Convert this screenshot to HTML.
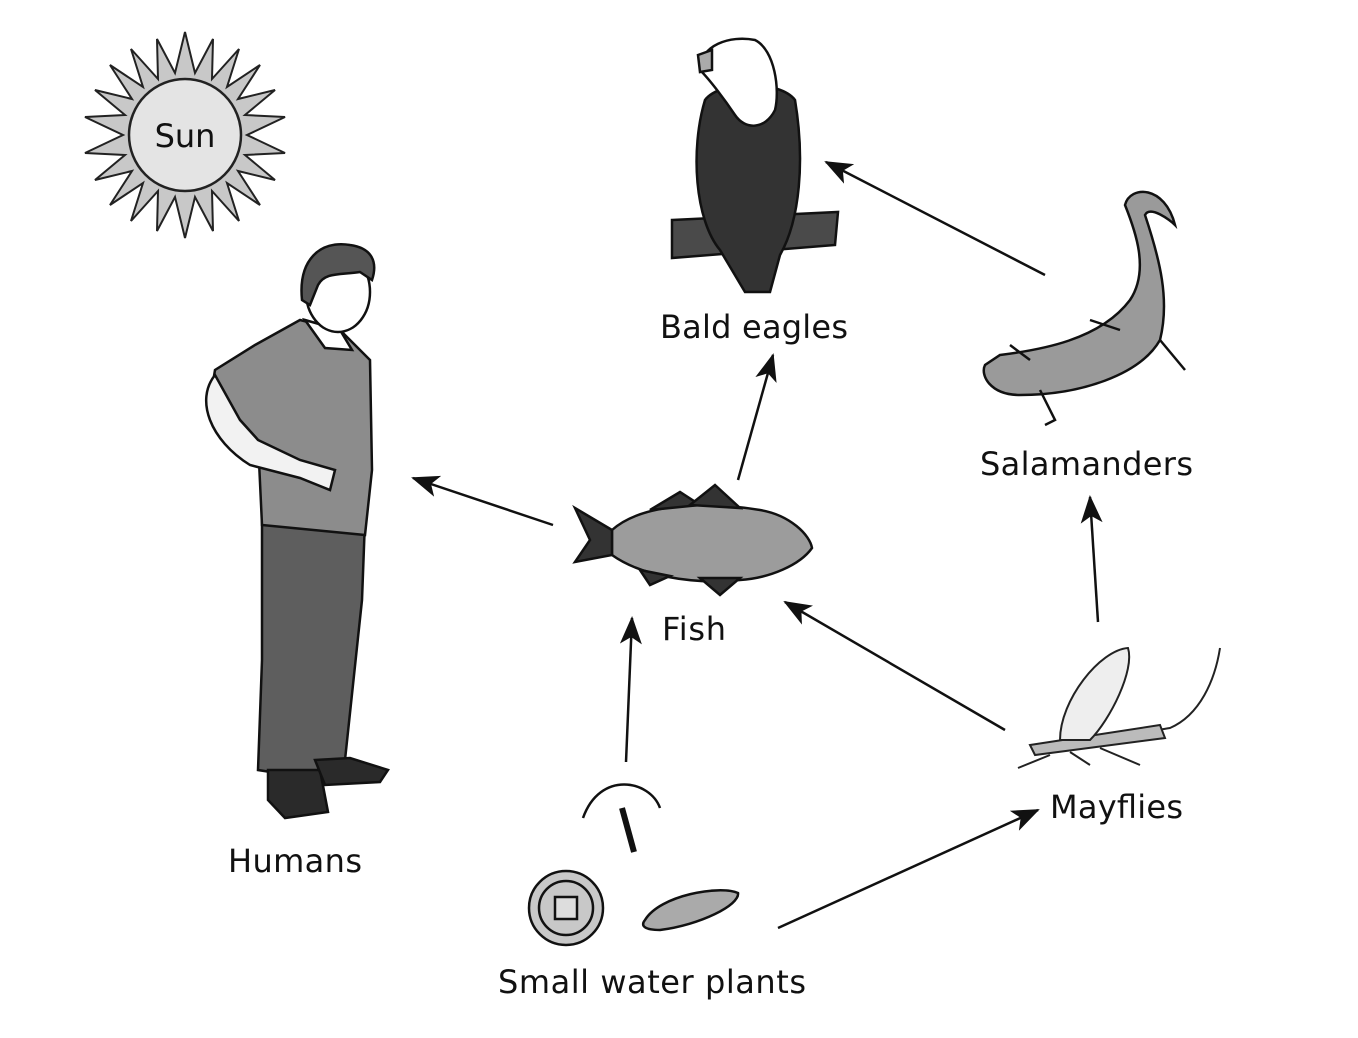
<!DOCTYPE html>
<html><head><meta charset="utf-8"><style>
html,body{margin:0;padding:0;background:#fff;}
svg{display:block}
text{font-family:"DejaVu Sans","Liberation Sans",sans-serif;fill:#111;}
</style></head><body>
<svg width="1358" height="1038" viewBox="0 0 1358 1038" xmlns="http://www.w3.org/2000/svg">
<defs>
<marker id="ah" markerWidth="28" markerHeight="22" refX="26" refY="11" orient="auto" markerUnits="userSpaceOnUse" viewBox="0 0 28 22">
<path d="M0,0 L28,11 L0,22 L7,11 Z" fill="#111"/>
</marker>
</defs>
<!-- Sun -->
<g transform="translate(185,135)">
<polygon fill="#c8c8c8" stroke="#222" stroke-width="2" points="
0,-103 10,-62 28,-96 27,-56 54,-86 42,-48 75,-70 53,-36 90,-45 60,-20 100,-18 62,0 100,18 60,20 90,45 53,36 75,70 42,48 54,86 27,56 28,96 10,62 0,103 -10,62 -28,96 -27,56 -54,86 -42,48 -75,70 -53,36 -90,45 -60,20 -100,18 -62,0 -100,-18 -60,-20 -90,-45 -53,-36 -75,-70 -42,-48 -54,-86 -27,-56 -28,-96 -10,-62"/>
<circle r="56" fill="#e4e4e4" stroke="#222" stroke-width="2.5"/>
<text x="0" y="12" font-size="32" text-anchor="middle">Sun</text>
</g>
<!-- Human -->
<g stroke="#111" stroke-width="2.5">
<path d="M262,520 L365,520 L362,600 L345,760 L318,770 L290,775 L258,770 L262,660 Z" fill="#5e5e5e"/>
<path d="M268,770 L320,770 L328,812 L285,818 L268,800 Z" fill="#2a2a2a"/>
<path d="M315,760 L350,758 L388,770 L380,782 L325,785 Z" fill="#2a2a2a"/>
<path d="M255,345 L300,320 L340,330 L370,360 L372,470 L365,535 L262,525 L258,440 L240,420 L210,400 L215,370 Z" fill="#8c8c8c"/>
<path d="M215,375 C195,400 210,440 250,465 L300,478 L330,490 L335,470 L300,460 L258,440 L240,420 Z" fill="#f2f2f2"/>
<path d="M305,320 L340,330 L352,350 L325,348 Z" fill="#fff"/>
<ellipse cx="338" cy="292" rx="32" ry="40" fill="#fff"/>
<path d="M302,300 C298,260 320,240 350,245 C372,248 378,262 372,280 L360,272 C340,275 325,272 318,285 L310,305 Z" fill="#555"/>
</g>
<!-- Eagle -->
<g stroke="#111" stroke-width="2.5">
<path d="M672,220 L838,212 L835,245 L672,258 Z" fill="#4a4a4a"/>
<path d="M705,100 C690,150 695,220 720,250 L745,292 L770,292 L780,255 C800,220 805,160 795,100 C780,80 720,80 705,100 Z" fill="#333"/>
<path d="M700,70 C700,45 730,35 755,40 C775,50 780,90 775,110 C765,130 745,130 735,115 C725,100 710,80 700,70 Z" fill="#fff"/>
<path d="M698,55 L712,50 L712,70 L700,72 Z" fill="#aaa"/>
</g>
<!-- Salamander -->
<g stroke="#111" stroke-width="2.5" fill="#9a9a9a">
<path d="M1000,355 C1040,350 1100,340 1130,300 C1150,270 1135,230 1125,205 C1130,185 1165,185 1175,225 C1170,220 1150,205 1145,215 C1160,260 1170,300 1160,340 C1140,375 1080,395 1020,395 C990,395 980,375 985,365 Z"/>
<path d="M1040,390 L1055,420 L1045,425" fill="none"/>
<path d="M1030,360 L1010,345" fill="none"/>
<path d="M1120,330 L1090,320" fill="none"/>
<path d="M1160,340 L1185,370" fill="none"/>
</g>
<!-- Fish -->
<g stroke="#111" stroke-width="2.5">
<path d="M612,530 C640,505 700,500 760,510 C790,515 810,535 812,548 C800,565 770,578 740,580 C690,585 640,575 612,555 Z" fill="#9c9c9c"/>
<path d="M612,530 L575,508 L590,540 L575,562 L612,555 Z" fill="#333"/>
<path d="M650,510 L680,492 L700,505 Z" fill="#333"/>
<path d="M690,505 L715,485 L740,508 Z" fill="#333"/>
<path d="M700,578 L720,595 L740,578 Z" fill="#333"/>
<path d="M640,570 L650,585 L670,576 Z" fill="#333"/>
</g>
<!-- Mayfly -->
<g stroke="#222" stroke-width="2" fill="none">
<path d="M1035,748 C1070,740 1130,735 1170,728 C1200,715 1215,680 1220,648"/>
<path d="M1030,745 L1160,725 L1165,738 L1035,755 Z" fill="#bbb"/>
<path d="M1060,740 C1060,700 1100,650 1128,648 C1135,670 1110,720 1090,740 Z" fill="#eee"/>
<path d="M1050,755 L1018,768 M1070,752 L1090,765 M1100,748 L1140,765"/>
</g>
<!-- Plants -->
<g stroke="#111" stroke-width="2.5">
<circle cx="566" cy="908" r="37" fill="#c8c8c8"/>
<circle cx="566" cy="908" r="27" fill="none"/>
<rect x="555" y="897" width="22" height="22" fill="#ddd"/>
<path d="M645,920 C660,895 720,885 738,893 C740,905 700,925 660,930 C645,930 640,926 645,920 Z" fill="#aaa"/>
<path d="M583,818 C600,770 650,780 660,808" fill="none"/>
<path d="M622,808 L634,852" stroke-width="6"/>
</g>
<!-- Arrows -->
<g stroke="#111" stroke-width="2.5" marker-end="url(#ah)" fill="none">
<line x1="1045" y1="275" x2="826" y2="162"/>
<line x1="738" y1="480" x2="773" y2="355"/>
<line x1="553" y1="525" x2="413" y2="478"/>
<line x1="626" y1="762" x2="632" y2="618"/>
<line x1="1005" y1="730" x2="785" y2="602"/>
<line x1="1098" y1="622" x2="1090" y2="497"/>
<line x1="778" y1="928" x2="1038" y2="810"/>
</g>
<!-- Labels -->
<g font-size="32">
<text x="660" y="338" textLength="188">Bald eagles</text>
<text x="980" y="475" textLength="213">Salamanders</text>
<text x="662" y="640" textLength="64">Fish</text>
<text x="1050" y="818" textLength="133">Mayflies</text>
<text x="228" y="872" textLength="134">Humans</text>
<text x="498" y="993" textLength="308">Small water plants</text>
</g>
</svg>
</body></html>
